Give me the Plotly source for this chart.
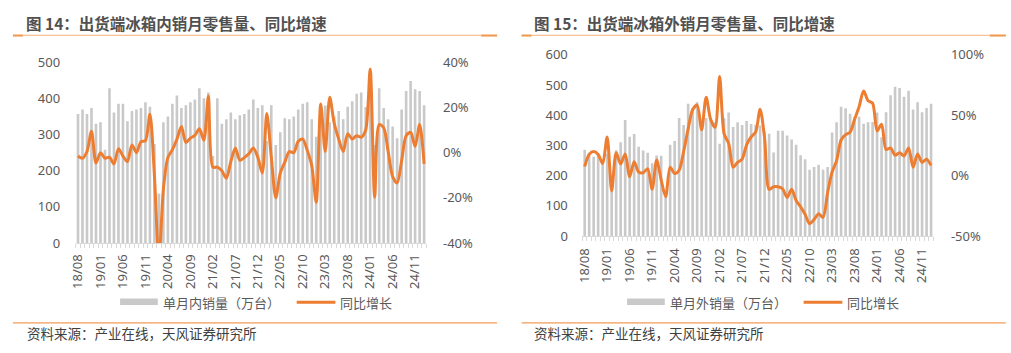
import plotly.graph_objects as go

# ---------------- data ----------------
months = [f"{y:02d}/{m:02d}" for y in range(18, 26) for m in range(1, 13)]
categories = months[months.index("18/08"): months.index("25/01") + 1]   # 78 months
tick_labels = ["18/08", "19/01", "19/06", "19/11", "20/04", "20/09", "21/02", "21/07",
               "21/12", "22/05", "22/10", "23/03", "23/08", "24/01", "24/06", "24/11"]

# 单月内销量（万台）
dom_sales = [357, 369, 357, 373, 330, 334, 258, 428, 361, 385,
             385, 337, 365, 369, 373, 389, 377, 274, 137, 334,
             350, 385, 408, 373, 381, 389, 397, 428, 400, 416,
             241, 400, 330, 342, 361, 342, 353, 357, 369, 397,
             373, 381, 282, 381, 271, 306, 345, 342, 350, 369,
             385, 389, 342, 294, 343, 380, 334, 350, 365, 342,
             377, 392, 413, 416, 376, 403, 271, 428, 373, 342,
             322, 290, 369, 420, 448, 425, 420, 381]
# 内销同比增长（%）
dom_yoy = [-1.5, -2.5, 0.5, 9.4, -4.6, 0, -2.5, -2, -5, 1.7,
           -1.5, -4, 3.4, 0, 4.8, 5.3, 17, -10, -48, -16,
           -2.2, 1.3, 5.9, 11.5, 4.5, 6.4, 7.6, 10.6, 5.5, 25,
           -6.4, -6.4, -8, -11.3, -4, 2, -3.4, -2.2, -0.5, 2,
           -2, -9, 17.3, -2, -20, -9, -4.3, 0.5, 0, 5,
           6, 1, -5.7, -22, 21.5, 0.5, 24.5, 13, 6, 0.5,
           8.3, 6, 7.5, 6.8, 10, 37, -19.7, 12.4, 11, 0.5,
           -10.6, -13.4, -3.6, 7.5, 9, 2.7, 12.4, -5]

# 单月外销量（万台）
exp_sales = [286, 276, 263, 272, 238, 273, 168, 284, 311, 384,
             329, 338, 296, 283, 276, 241, 267, 266, 139, 302,
             315, 391, 368, 438, 424, 443, 381, 391, 391, 378,
             306, 391, 409, 361, 377, 368, 381, 371, 369, 366,
             347, 339, 277, 349, 349, 333, 320, 302, 268, 254,
             220, 229, 236, 220, 229, 343, 377, 428, 423, 405,
             393, 395, 372, 377, 378, 409, 327, 410, 466, 494,
             490, 461, 481, 419, 443, 410, 424, 438]
# 外销同比增长（%）
exp_yoy = [7.6, 17.6, 20, 17.6, 10, 32, -12.6, 19, 9.7, 18,
           -0.8, 11.6, 3, 2.4, 5.8, -11.3, 13, -3.4, -17.4, 7,
           1.8, 4.5, 20, 38.7, 54.5, 58.4, 38, 65, 46.6, 40,
           82, 34.7, 26.8, 7, 11, 13.7, 25.5, 32, 36, 55,
           30.8, -11.3, -9.2, -9.2, -10.8, -18, -11.3, -20.5, -25.8, -32,
           -39.7, -36.3, -31.6, -34.5, -14, 3, 12.4, 29.5, 34, 36,
           46.6, 57, 70, 62, 60, 37, 42.6, 21.6, 23, 17,
           19, 16.3, 23, 7, 18, 11, 13.7, 8.4]

left_ticks = [0, 100, 200, 300, 400, 500]
left_pct_ticks = [-40, -20, 0, 20, 40]
right_ticks = [0, 100, 200, 300, 400, 500, 600]
right_pct_ticks = [-50, 0, 50, 100]

# ---------------- style ----------------
W, H = 1011, 353
GRAY = "#C9C9C9"
ORANGE = "#ED7D31"
TXT = "#595959"
FONT = "Noto Sans, Noto Sans CJK SC, sans-serif"
CJK = "Noto Sans CJK SC, Noto Sans, sans-serif"


def fx(p):
    return p / W


def fy(p):
    return 1 - p / H


ticktext = [c if c in tick_labels else "" for c in categories]

fig = go.Figure()
fig.add_trace(go.Bar(x=categories, y=dom_sales, marker=dict(color=GRAY, line=dict(width=0)),
                     xaxis="x", yaxis="y", showlegend=False))
fig.add_trace(go.Scatter(x=categories, y=dom_yoy, mode="lines",
                         line=dict(color=ORANGE, width=3, shape="spline", smoothing=0.8),
                         xaxis="x", yaxis="y2", showlegend=False))
fig.add_trace(go.Bar(x=categories, y=exp_sales, marker=dict(color=GRAY, line=dict(width=0)),
                     xaxis="x2", yaxis="y3", showlegend=False))
fig.add_trace(go.Scatter(x=categories, y=exp_yoy, mode="lines",
                         line=dict(color=ORANGE, width=3, shape="spline", smoothing=0.8),
                         xaxis="x2", yaxis="y4", showlegend=False))

xcommon = dict(type="category", tickmode="array", tickvals=categories, ticktext=ticktext,
               tickangle=-90, ticks="outside", ticklen=4, tickcolor="#D9D9D9",
               showline=True, linecolor="#D9D9D9", linewidth=1, tickson="boundaries",
               showgrid=False, zeroline=False, tickfont=dict(family=FONT, size=13, color=TXT),
               fixedrange=True)
ycommon = dict(showgrid=False, zeroline=False, showline=False, ticks="outside",
               tickcolor="rgba(0,0,0,0)", tickfont=dict(family=FONT, size=13, color=TXT),
               fixedrange=True)

fig.update_layout(
    width=W, height=H, margin=dict(l=0, r=0, t=0, b=0), autosize=False,
    paper_bgcolor="white", plot_bgcolor="white", bargap=0.42,
    xaxis=dict(domain=[fx(68.3), fx(421.7)], anchor="y", ticklabelstandoff=5, **xcommon),
    yaxis=dict(domain=[fy(246.7), fy(56)], anchor="x", range=[0, 500],
               tickvals=left_ticks, ticklen=12, **ycommon),
    yaxis2=dict(overlaying="y", side="right", anchor="x", range=[-40, 40],
                tickvals=left_pct_ticks, ticktext=[f"{v}%" for v in left_pct_ticks],
                ticklen=13, **ycommon),
    xaxis2=dict(domain=[fx(579), fx(932.7)], anchor="y3", ticklabelstandoff=6, **xcommon),
    yaxis3=dict(domain=[fy(239.3), fy(48.3)], anchor="x2", range=[0, 600],
                tickvals=right_ticks, ticklen=11, **ycommon),
    yaxis4=dict(overlaying="y3", side="right", anchor="x2", range=[-50, 100],
                tickvals=right_pct_ticks, ticktext=[f"{v}%" for v in right_pct_ticks],
                ticklen=14, **ycommon),
)

shapes = []
annotations = []

# title separators and bottom separators
for x0, x1 in [(5, 493), (517.7, 1005.7)]:
    shapes.append(dict(type="line", xref="paper", yref="paper", x0=fx(x0), x1=fx(x1),
                       y0=fy(27.7), y1=fy(27.7), line=dict(color="#F6B07A", width=1)))
    shapes.append(dict(type="line", xref="paper", yref="paper", x0=fx(x0), x1=fx(x0 + 10),
                       y0=fy(28), y1=fy(28), line=dict(color="#F09A50", width=2)))
    shapes.append(dict(type="line", xref="paper", yref="paper", x0=fx(x1 - 16), x1=fx(x1),
                       y0=fy(28), y1=fy(28), line=dict(color="#F09A50", width=2)))
    shapes.append(dict(type="line", xref="paper", yref="paper", x0=fx(x0), x1=fx(x1),
                       y0=fy(330.7), y1=fy(330.7), line=dict(color="#F29B56", width=1.3)))

titles = [(16, "图 14：出货端冰箱内销月零售量、同比增速"),
          (528, "图 15：出货端冰箱外销月零售量、同比增速")]
for x, t in titles:
    annotations.append(dict(xref="paper", yref="paper", x=fx(x), y=fy(15), text=f"<b>{t}</b>",
                            showarrow=False, xanchor="left", yanchor="middle",
                            font=dict(family=CJK, size=15.5, color="#505050")))
for x in (17, 528):
    annotations.append(dict(xref="paper", yref="paper", x=fx(x), y=fy(341),
                            text="资料来源：产业在线，天风证券研究所", showarrow=False,
                            xanchor="left", yanchor="middle",
                            font=dict(family=CJK, size=13.5, color="#404040")))

# custom legends
legends = [(113, "单月内销量（万台）", 291, "同比增长"),
           (624, "单月外销量（万台）", 802, "同比增长")]
for bx, btxt, lx, ltxt in legends:
    shapes.append(dict(type="rect", xref="paper", yref="paper", x0=fx(bx), x1=fx(bx + 38),
                       y0=fy(312), y1=fy(305), line=dict(width=0), fillcolor=GRAY))
    annotations.append(dict(xref="paper", yref="paper", x=fx(bx + 41), y=fy(309), text=btxt,
                            showarrow=False, xanchor="left", yanchor="middle",
                            font=dict(family=CJK, size=13, color=TXT)))
    shapes.append(dict(type="line", xref="paper", yref="paper", x0=fx(lx), x1=fx(lx + 39),
                       y0=fy(309), y1=fy(309), line=dict(color=ORANGE, width=3)))
    annotations.append(dict(xref="paper", yref="paper", x=fx(lx + 42), y=fy(309), text=ltxt,
                            showarrow=False, xanchor="left", yanchor="middle",
                            font=dict(family=CJK, size=13, color=TXT)))

fig.update_layout(shapes=shapes, annotations=annotations)
fig.write_html("out.html",
               post_script="document.body.style.margin='0';document.body.style.overflow='hidden';")
